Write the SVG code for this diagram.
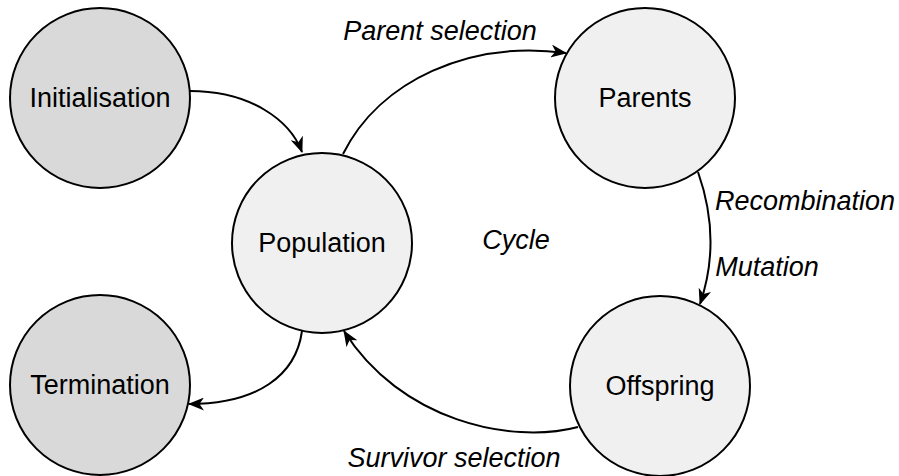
<svg xmlns="http://www.w3.org/2000/svg" width="899" height="476" viewBox="0 0 899 476">
  <style>
    .node { stroke: #000; stroke-width: 2; }
    .outer { fill: #d9d9d9; }
    .inner { fill: #f0f0f0; }
    .lbl { font-family: "Liberation Sans", Arial, sans-serif; font-size: 27px; fill: #000; text-anchor: middle; }
    .it { font-family: "Liberation Sans", Arial, sans-serif; font-size: 27px; font-style: italic; fill: #000; text-anchor: middle; }
    .edge { fill: none; stroke: #000; stroke-width: 2; marker-end: url(#arrow); }
  </style>
  <defs>
    <marker id="arrow" markerUnits="userSpaceOnUse" markerWidth="16" markerHeight="13" viewBox="0 0 16 13" refX="15" refY="6.5" orient="auto">
      <path d="M0,0 L16,6.5 L0,13 L4.5,6.5 z" fill="#000"/>
    </marker>
  </defs>
  <rect width="899" height="476" fill="#fff"/>

  <g id="connectors">
    <path class="edge" d="M190,91 C250,91 290,120 302,152"/>
    <path class="edge" d="M343,154 C380,80 470,40 566,53"/>
    <path class="edge" d="M698,172 Q722,240 700,304"/>
    <path class="edge" d="M578,427 C510,445 400,420 344,331"/>
    <path class="edge" d="M302,331 C296,375 258,404 189,404"/>
  </g>

  <g id="initialisation">
    <circle class="node outer" cx="100" cy="98" r="90"/>
    <text class="lbl" x="100" y="107">Initialisation</text>
  </g>
  <g id="termination">
    <circle class="node outer" cx="100" cy="385" r="90"/>
    <text class="lbl" x="100" y="394">Termination</text>
  </g>
  <g id="population">
    <circle class="node inner" cx="322" cy="243" r="90"/>
    <text class="lbl" x="322" y="252">Population</text>
  </g>
  <g id="parents">
    <circle class="node inner" cx="645" cy="98" r="90"/>
    <text class="lbl" x="645" y="107">Parents</text>
  </g>
  <g id="offspring">
    <circle class="node inner" cx="660" cy="386" r="90"/>
    <text class="lbl" x="660" y="395">Offspring</text>
  </g>

  <g id="labels">
    <text class="it" x="440" y="40">Parent selection</text>
    <text class="it" x="805" y="210">Recombination</text>
    <text class="it" x="767" y="276">Mutation</text>
    <text class="it" x="516" y="249">Cycle</text>
    <text class="it" x="454" y="467">Survivor selection</text>
  </g>
</svg>
